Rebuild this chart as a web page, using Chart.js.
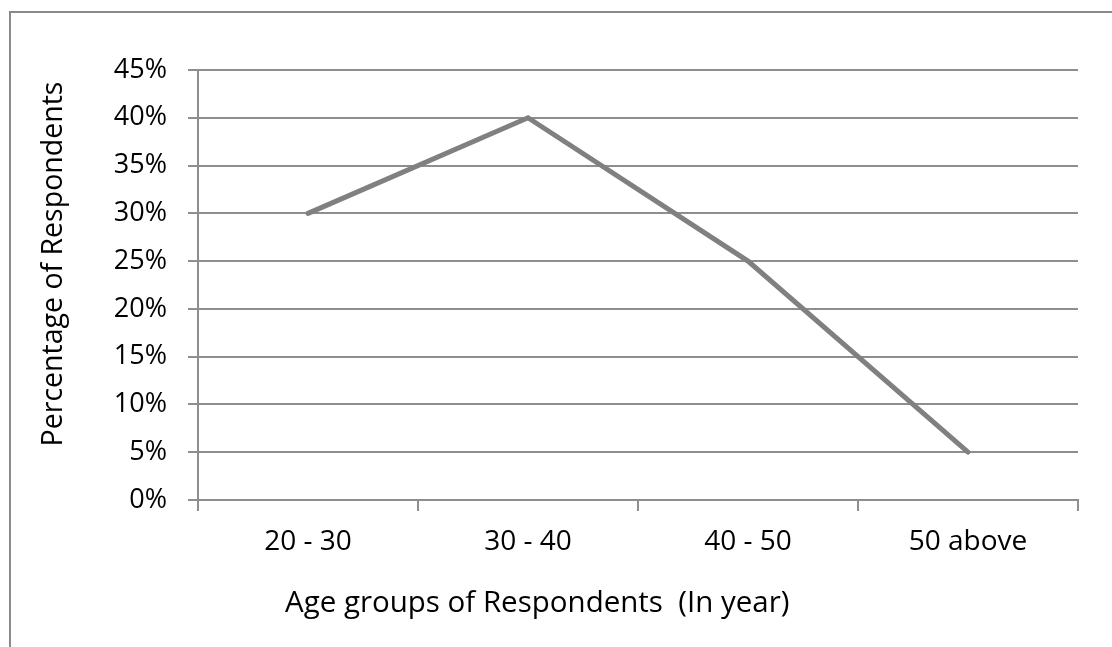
<!DOCTYPE html>
<html>
<head>
<meta charset="utf-8">
<script src="https://cdn.jsdelivr.net/npm/chart.js@4"></script>
<style>
  html, body { margin: 0; padding: 0; background: #fff; }
  #wrap { width: 1112px; height: 647px; position: relative; }
</style>
</head>
<body>
<div id="wrap"><canvas id="c" width="1112" height="647"></canvas></div>
<script>
// Age groups and share of respondents (%)
const ageGroups = ['20 - 30', '30 - 40', '40 - 50', '50 above'];
const respondentShare = [30, 40, 25, 5];
const yTicks = [0, 5, 10, 15, 20, 25, 30, 35, 40, 45];
const xTitle = 'Age groups of Respondents  (In year)';
const yTitle = 'Percentage of Respondents';

const FONT = '"Open Sans", sans-serif';
const GRID = '#8e8e8e';

// Outer frame and the two axis titles
const decor = {
  id: 'decor',
  beforeDraw(chart) {
    const ctx = chart.ctx;
    ctx.save();
    ctx.fillStyle = '#fff';
    ctx.fillRect(0, 0, chart.width, chart.height);
    ctx.strokeStyle = '#8a8a8a';
    ctx.lineWidth = 2;
    ctx.beginPath();
    ctx.moveTo(10, chart.height + 5);
    ctx.lineTo(10, 12);
    ctx.lineTo(chart.width + 5, 12);
    ctx.stroke();
    ctx.restore();
  },
  afterDraw(chart) {
    const ctx = chart.ctx;
    ctx.save();
    ctx.fillStyle = '#000';
    ctx.font = '29.5px ' + FONT;
    ctx.textAlign = 'left';
    ctx.textBaseline = 'middle';
    ctx.fillText(xTitle, 285, 604);
    ctx.font = '28.5px ' + FONT;
    ctx.translate(54, 264);
    ctx.rotate(-Math.PI / 2);
    ctx.textAlign = 'center';
    ctx.fillText(yTitle, 0, 0);
    ctx.restore();
  }
};

new Chart(document.getElementById('c'), {
  type: 'line',
  data: {
    labels: ageGroups,
    datasets: [{
      data: respondentShare,
      borderColor: '#808080',
      borderWidth: 5,
      borderCapStyle: 'round',
      borderJoinStyle: 'miter',
      pointRadius: 0,
      tension: 0,
      fill: false
    }]
  },
  options: {
    responsive: false,
    animation: false,
    devicePixelRatio: 1,
    layout: { padding: { top: 70, right: 34, left: 0, bottom: 0 } },
    plugins: { legend: { display: false }, tooltip: { enabled: false } },
    scales: {
      x: {
        offset: true,
        afterFit(s) { s.height = 147; },
        grid: { drawOnChartArea: false, offset: true, tickLength: 11, color: GRID, lineWidth: 2 },
        border: { color: GRID, width: 2 },
        ticks: { color: '#000', font: { family: FONT, size: 28 }, padding: 14, maxRotation: 0 }
      },
      y: {
        min: 0,
        max: 45,
        afterFit(s) { s.width = 198; },
        afterBuildTicks(s) { s.ticks = yTicks.map(v => ({ value: v })); },
        grid: { color: GRID, lineWidth: 2, tickLength: 10 },
        border: { color: GRID, width: 2 },
        ticks: {
          color: '#000',
          font: { family: FONT, size: 27 },
          padding: 21,
          callback: v => v + '%'
        }
      }
    }
  },
  plugins: [decor]
});
</script>
</body>
</html>
